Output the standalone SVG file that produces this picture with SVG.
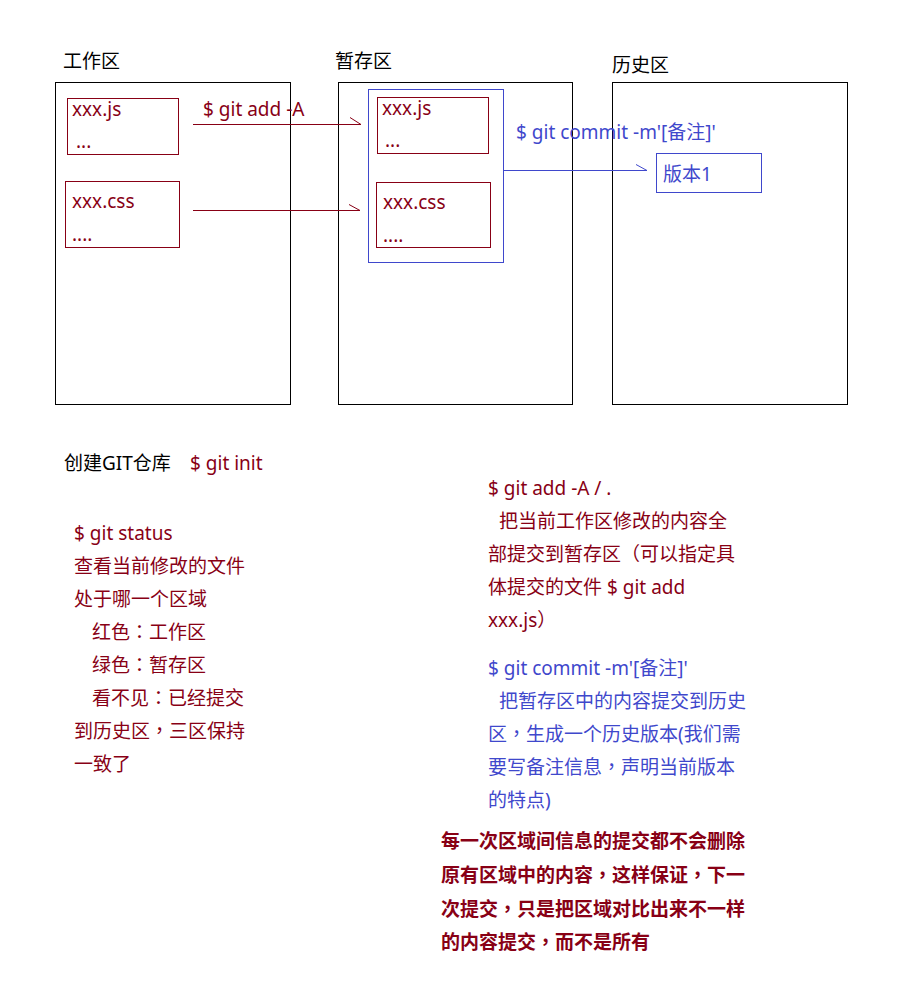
<svg xmlns="http://www.w3.org/2000/svg" width="900" height="1000" viewBox="0 0 900 1000">
  <style>
    text { font-family: "Noto Sans", "Noto Sans CJK SC", sans-serif; font-size: 19px; }
    .p { font-family: "Noto Sans CJK TC", "Noto Sans CJK SC", sans-serif; }
    .blk { fill: #000000; }
    .red { fill: #880015; }
    .blue { fill: #3F48CC; }
    .bold { font-weight: bold; }
    .area { fill: none; stroke: #000000; stroke-width: 1; }
    .file { fill: none; stroke: #880015; stroke-width: 1; }
    .bluebox { fill: none; stroke: #3F48CC; stroke-width: 1; }
    .redline { stroke: #880015; stroke-width: 1; fill: none; }
    .blueline { stroke: #3F48CC; stroke-width: 1; fill: none; }
  </style>
  <rect width="900" height="1000" fill="#ffffff"/>

  <!-- working directory -->
  <g id="workspace">
    <text class="blk" x="63" y="68">工作区</text>
    <rect class="area" x="55.5" y="82.5" width="235" height="322"/>
  </g>
  <g id="work-js">
    <rect class="file" x="67.5" y="98.5" width="111" height="56"/>
    <text class="red" x="72" y="116">xxx.js</text>
    <text class="red" x="76" y="148">...</text>
  </g>
  <g id="work-css">
    <rect class="file" x="65.5" y="181.5" width="114" height="66"/>
    <text class="red" x="72" y="208">xxx.css</text>
    <text class="red" x="72" y="241">....</text>
  </g>

  <!-- staging area -->
  <g id="stage">
    <text class="blk" x="335" y="68">暂存区</text>
    <rect class="area" x="338.5" y="82.5" width="234" height="322"/>
  </g>
  <g id="stage-group">
    <rect class="bluebox" x="368.5" y="89.5" width="135" height="173"/>
  </g>
  <g id="stage-js">
    <rect class="file" x="377.5" y="97.5" width="111" height="56"/>
    <text class="red" x="382" y="115">xxx.js</text>
    <text class="red" x="385" y="147">...</text>
  </g>
  <g id="stage-css">
    <rect class="file" x="376.5" y="182.5" width="114" height="65"/>
    <text class="red" x="383" y="209">xxx.css</text>
    <text class="red" x="383" y="242">....</text>
  </g>

  <!-- history -->
  <g id="history">
    <text class="blk" x="612" y="72">历史区</text>
    <rect class="area" x="612.5" y="82.5" width="235" height="322"/>
  </g>
  <g id="version1">
    <rect class="bluebox" x="656.5" y="153.5" width="105" height="39"/>
    <text class="blue" x="663" y="181">版本1</text>
  </g>

  <!-- connectors -->
  <g id="connectors">
    <path class="redline" d="M193 124.5 H361 M350 117.5 L361 124.5"/>
    <text class="red" x="203" y="116">$ git add -A</text>
    <path class="redline" d="M193 210.5 H360 M349 204.5 L360 210.5"/>
    <path class="blueline" d="M503 170.5 H647 M636 164.5 L647 170.5"/>
    <text class="blue" x="516" y="139">$ git commit -m'[备注]'</text>
  </g>

  <!-- notes, left column -->
  <g id="note-init">
    <text class="blk" x="64" y="470">创建GIT仓库<tspan class="red" x="190">$ git init</tspan></text>
  </g>
  <g id="note-status">
    <text class="red" x="74" y="540">$ git status</text>
    <text class="red" x="74" y="573">查看当前修改的文件</text>
    <text class="red" x="74" y="606">处于哪一个区域</text>
    <text class="red" x="92" y="639">红色<tspan class="p">：</tspan>工作区</text>
    <text class="red" x="92" y="672">绿色<tspan class="p">：</tspan>暂存区</text>
    <text class="red" x="92" y="705">看不见<tspan class="p">：</tspan>已经提交</text>
    <text class="red" x="74" y="738">到历史区<tspan class="p">，</tspan>三区保持</text>
    <text class="red" x="74" y="771">一致了</text>
  </g>

  <!-- notes, right column -->
  <g id="note-add">
    <text class="red" x="488" y="495">$ git add -A / .</text>
    <text class="red" x="499" y="528">把当前工作区修改的内容全</text>
    <text class="red" x="488" y="561">部提交到暂存区<tspan class="p">（</tspan>可以指定具</text>
    <text class="red" x="488" y="594">体提交的文件 $ git add</text>
    <text class="red" x="488" y="627">xxx.js<tspan class="p">）</tspan></text>
  </g>
  <g id="note-commit">
    <text class="blue" x="488" y="675">$ git commit -m'[备注]'</text>
    <text class="blue" x="499" y="708">把暂存区中的内容提交到历史</text>
    <text class="blue" x="488" y="741">区<tspan class="p">，</tspan>生成一个历史版本(我们需</text>
    <text class="blue" x="488" y="774">要写备注信息<tspan class="p">，</tspan>声明当前版本</text>
    <text class="blue" x="488" y="807">的特点)</text>
  </g>
  <g id="note-summary">
    <text class="red bold" x="441" y="848">每一次区域间信息的提交都不会删除</text>
    <text class="red bold" x="441" y="882">原有区域中的内容<tspan class="p">，</tspan>这样保证<tspan class="p">，</tspan>下一</text>
    <text class="red bold" x="441" y="916">次提交<tspan class="p">，</tspan>只是把区域对比出来不一样</text>
    <text class="red bold" x="441" y="949">的内容提交<tspan class="p">，</tspan>而不是所有</text>
  </g>
</svg>
